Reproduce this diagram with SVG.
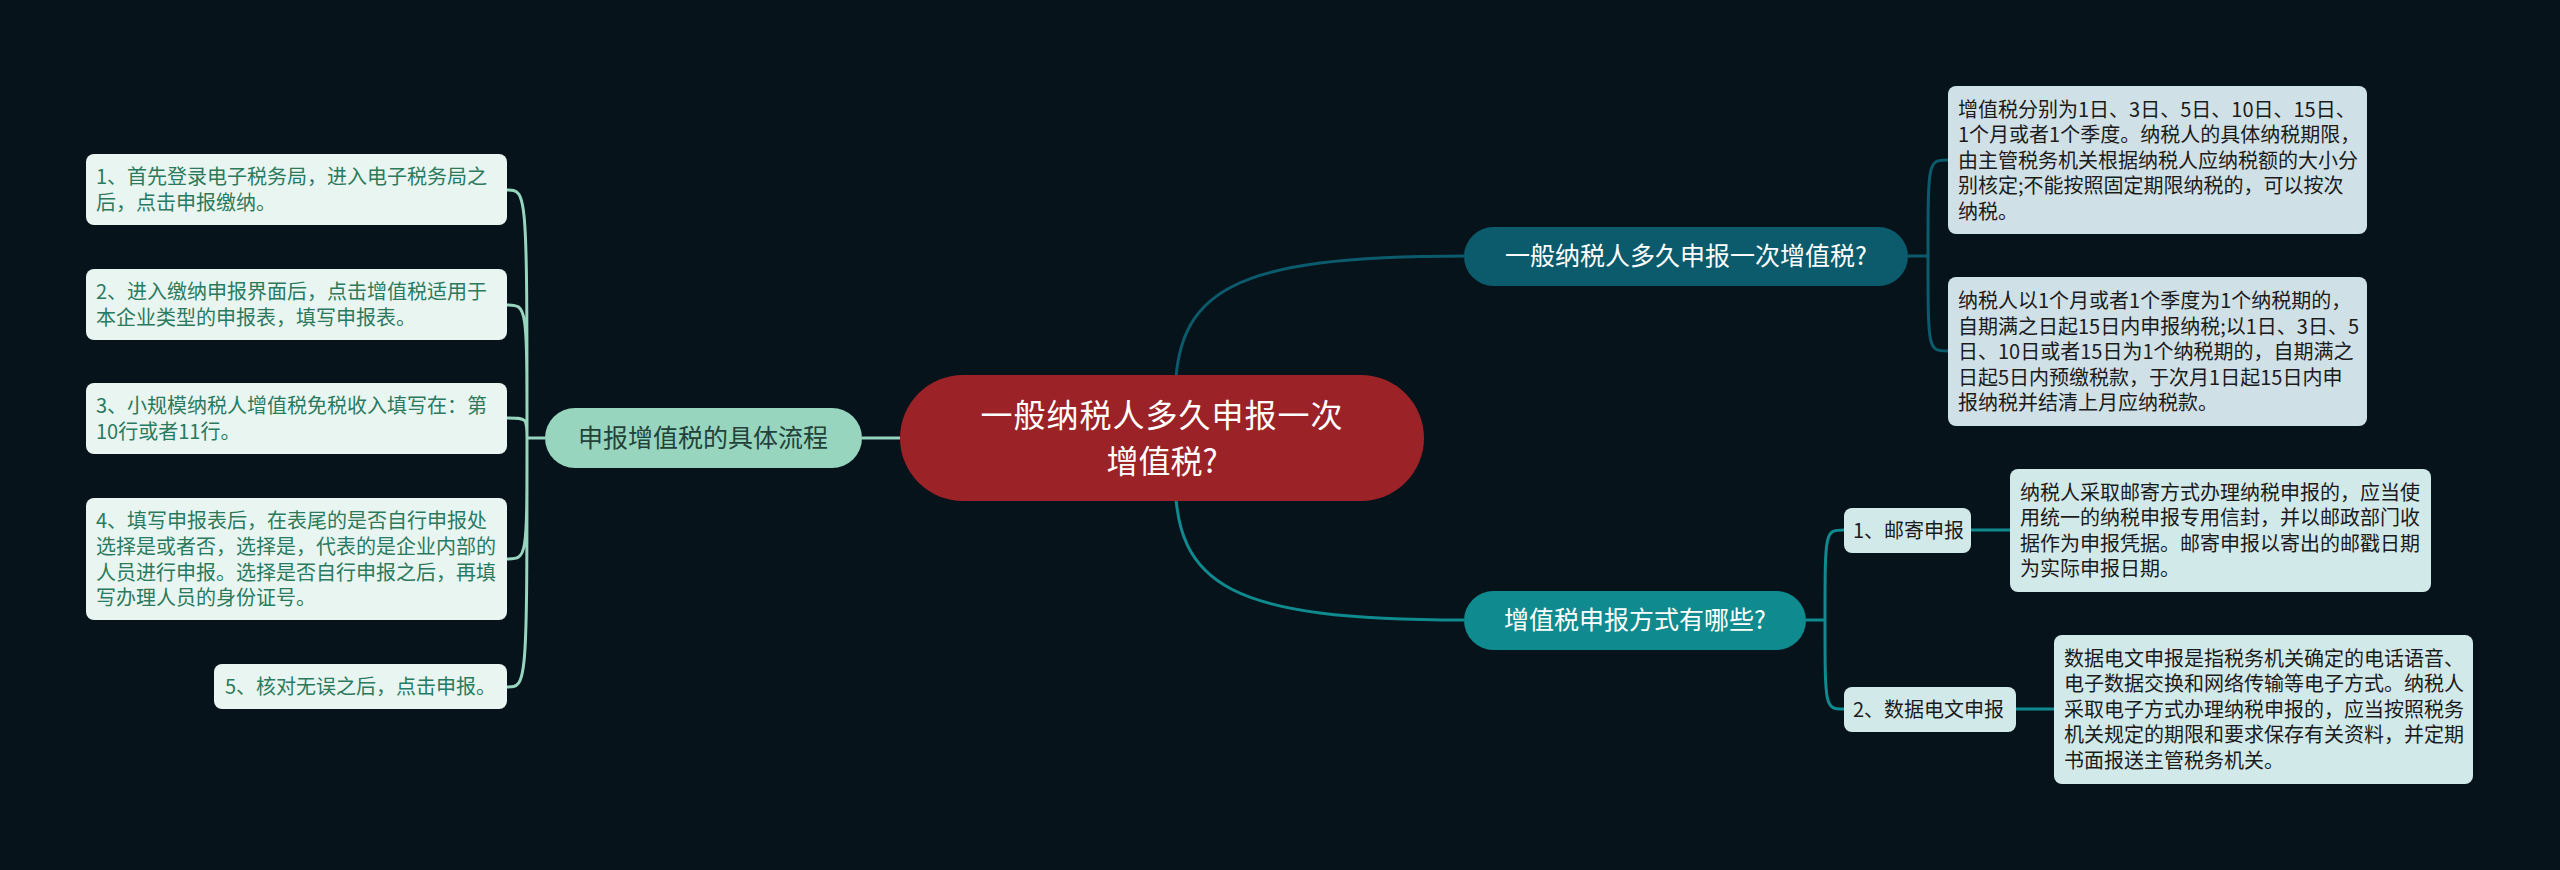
<svg xmlns="http://www.w3.org/2000/svg" width="2560" height="870" viewBox="0 0 2560 870">
<style>
text{font-family:"Noto Sans CJK SC","Noto Sans",sans-serif;}
.lf rect{fill:#e9f5f1;}
.lf text{fill:#2b7a5e;font-size:20px;}
.rt rect{fill:#cfe0e6;}
.rt text{fill:#1b1b1b;font-size:20px;}
.rb rect{fill:#d2e9ea;}
.rb text{fill:#1b1b1b;font-size:20px;}
.br text{font-size:25px;text-anchor:middle;}
.c{fill:none;stroke-width:3;}
.cl{stroke:#97d5bf;}
.ct{stroke:#0b5b6d;}
.cb{stroke:#0f8b8f;}
</style>
<rect width="2560" height="870" fill="#06131a"/>
<g id="connectors">
<path class="c cl" d="M862 438H900M545 438H527M527 438C527 190 527 190 507 190M527 438C527 305 527 305 507 305M527 438C527 418 527 418 507 418M527 438C527 559 527 559 507 559M527 438C527 687 527 687 507 687"/>
<path class="c ct" d="M1175 400C1175 290 1230 256 1464 256M1908 256H1928M1928 256C1928 160 1928 160 1948 160M1928 256C1928 351 1928 351 1948 351"/>
<path class="c cb" d="M1175 476C1175 586 1230 620 1464 620M1806 620H1825M1825 620C1825 530 1825 530 1844 530M1825 620C1825 709 1825 709 1844 709M1971 530H2010M2016 709H2054"/>
</g>
<g id="root">
<rect x="900" y="375" width="524" height="126" rx="63" fill="#9b2226"/>
<text x="1162" y="427" font-size="32" fill="#ffffff" text-anchor="middle" letter-spacing="1">一般纳税人多久申报一次</text>
<text x="1162" y="473" font-size="32" fill="#ffffff" text-anchor="middle">增值税?</text>
</g>
<g id="branch-left" class="br">
<rect x="545" y="408" width="317" height="60" rx="30" fill="#97d5bf"/>
<text x="703" y="447" fill="#22423a">申报增值税的具体流程</text>
</g>
<g id="branch-top" class="br">
<rect x="1464" y="227" width="444" height="59" rx="29.5" fill="#0b5b6d"/>
<text x="1686" y="265" fill="#ffffff">一般纳税人多久申报一次增值税?</text>
</g>
<g id="branch-bottom" class="br">
<rect x="1464" y="591" width="342" height="59" rx="29.5" fill="#0f8b8f"/>
<text x="1635" y="629" fill="#ffffff">增值税申报方式有哪些?</text>
</g>
<g id="step1" class="lf">
<rect x="86" y="154" width="421" height="71" rx="8"/>
<text x="96" y="184">1、首先登录电子税务局，进入电子税务局之</text>
<text x="96" y="210">后，点击申报缴纳。</text>
</g>
<g id="step2" class="lf">
<rect x="86" y="269" width="421" height="71" rx="8"/>
<text x="96" y="299">2、进入缴纳申报界面后，点击增值税适用于</text>
<text x="96" y="325">本企业类型的申报表，填写申报表。</text>
</g>
<g id="step3" class="lf">
<rect x="86" y="383" width="421" height="71" rx="8"/>
<text x="96" y="413">3、小规模纳税人增值税免税收入填写在：第</text>
<text x="96" y="439">10行或者11行。</text>
</g>
<g id="step4" class="lf">
<rect x="86" y="498" width="421" height="122" rx="8"/>
<text x="96" y="528">4、填写申报表后，在表尾的是否自行申报处</text>
<text x="96" y="554">选择是或者否，选择是，代表的是企业内部的</text>
<text x="96" y="580">人员进行申报。选择是否自行申报之后，再填</text>
<text x="96" y="605">写办理人员的身份证号。</text>
</g>
<g id="step5" class="lf">
<rect x="214" y="664" width="293" height="45" rx="8"/>
<text x="225" y="694">5、核对无误之后，点击申报。</text>
</g>
<g id="period1" class="rt">
<rect x="1948" y="86" width="419" height="148" rx="8"/>
<text x="1958" y="117">增值税分别为1日、3日、5日、10日、15日、</text>
<text x="1958" y="142">1个月或者1个季度。纳税人的具体纳税期限，</text>
<text x="1958" y="168">由主管税务机关根据纳税人应纳税额的大小分</text>
<text x="1958" y="193">别核定;不能按照固定期限纳税的，可以按次</text>
<text x="1958" y="219">纳税。</text>
</g>
<g id="period2" class="rt">
<rect x="1948" y="277" width="419" height="149" rx="8"/>
<text x="1958" y="308">纳税人以1个月或者1个季度为1个纳税期的，</text>
<text x="1958" y="334">自期满之日起15日内申报纳税;以1日、3日、5</text>
<text x="1958" y="359">日、10日或者15日为1个纳税期的，自期满之</text>
<text x="1958" y="385">日起5日内预缴税款，于次月1日起15日内申</text>
<text x="1958" y="410">报纳税并结清上月应纳税款。</text>
</g>
<g id="mail" class="rb">
<rect x="1844" y="508" width="127" height="45" rx="8"/>
<text x="1853" y="538">1、邮寄申报</text>
</g>
<g id="mail-detail" class="rb">
<rect x="2010" y="469" width="421" height="123" rx="8"/>
<text x="2020" y="500">纳税人采取邮寄方式办理纳税申报的，应当使</text>
<text x="2020" y="525">用统一的纳税申报专用信封，并以邮政部门收</text>
<text x="2020" y="551">据作为申报凭据。邮寄申报以寄出的邮戳日期</text>
<text x="2020" y="576">为实际申报日期。</text>
</g>
<g id="edata" class="rb">
<rect x="1844" y="687" width="172" height="45" rx="8"/>
<text x="1853" y="717">2、数据电文申报</text>
</g>
<g id="edata-detail" class="rb">
<rect x="2054" y="635" width="419" height="149" rx="8"/>
<text x="2064" y="666">数据电文申报是指税务机关确定的电话语音、</text>
<text x="2064" y="691">电子数据交换和网络传输等电子方式。纳税人</text>
<text x="2064" y="717">采取电子方式办理纳税申报的，应当按照税务</text>
<text x="2064" y="742">机关规定的期限和要求保存有关资料，并定期</text>
<text x="2064" y="768">书面报送主管税务机关。</text>
</g>
</svg>
